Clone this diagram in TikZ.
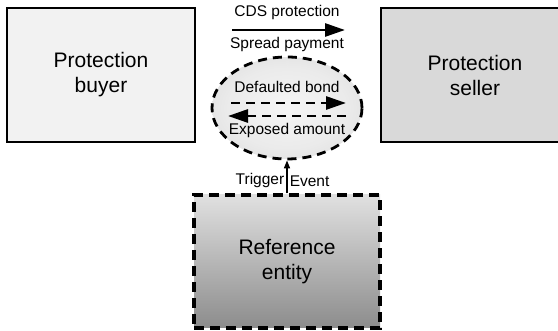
\documentclass[tikz,border=0pt]{standalone}
\usepackage{fontspec}
\setmainfont{Liberation Sans}
\usepackage{tikz}
\usetikzlibrary{arrows.meta,shapes.geometric}
\pgfdeclareradialshading{bondshade}{\pgfpoint{0bp}{0bp}}{color(0bp)=(black!4); color(20bp)=(black!8); color(50bp)=(black!20)}

\begin{document}
\begin{tikzpicture}[
              x=1pt, y=-1pt,
              party/.style={rectangle, draw, line width=2.5pt, minimum width=188pt,
                minimum height=134pt, align=center, font=\fontsize{21}{25}\selectfont},
              flowlabel/.style={font=\fontsize{15.5}{18}\selectfont, inner sep=1pt},
              flow/.style={line width=2.8pt, -{Triangle[length=20pt,width=13pt]}},
              dashflow/.style={flow, dash pattern=on 9pt off 6pt}
            ]
            \useasboundingbox (0,0) rectangle (558,331);

            % the two parties of the swap
            \node[party, fill=black!5] (buyer) at (101,75) {Protection\\buyer};
            \node[party, fill=black!15] (seller) at (475,75) {Protection\\seller};

            % premium leg
            \node[flowlabel] (cds) at (287,12) {CDS protection};
            \node[flowlabel] (spread) at (287,44) {Spread payment};
            \coordinate (cdsL) at (232,30);
            \coordinate (cdsR) at (345,30);
            \draw[flow] (cdsL) -- (cdsR);

            % settlement at default (dashed ellipse)
            \node[ellipse, draw, line width=2.8pt, dash pattern=on 9pt off 6pt,
                  shading=bondshade, minimum width=150pt, minimum height=102pt] (bond) at (287,108) {};
            \node[flowlabel] (defaulted) at (287,87) {Defaulted bond};
            \node[flowlabel] (exposed) at (287,130) {Exposed amount};
            \coordinate (bondL) at (231,103);
            \coordinate (bondR) at (346,103);
            \coordinate (payR) at (346,116);
            \coordinate (payL) at (228,116);
            \draw[dashflow] (bondL) -- (bondR);
            \draw[dashflow] (payR) -- (payL);

            % reference entity
            \node[party, line width=3.2pt, dash pattern=on 10pt off 6pt, minimum width=186pt,
                  minimum height=133pt, top color=black!12, bottom color=black!45] (ref) at (287,261.5) {Reference\\entity};

            % trigger
            \draw[line width=1.5pt, -{Triangle[length=8pt,width=6pt]}] (ref.north) -- (bond.south)
              node[midway, left, flowlabel, inner sep=2pt, yshift=-4pt] {Trigger}
              node[midway, right, flowlabel, inner sep=2pt, yshift=-4pt] {Event};

\end{tikzpicture}
\end{document}
